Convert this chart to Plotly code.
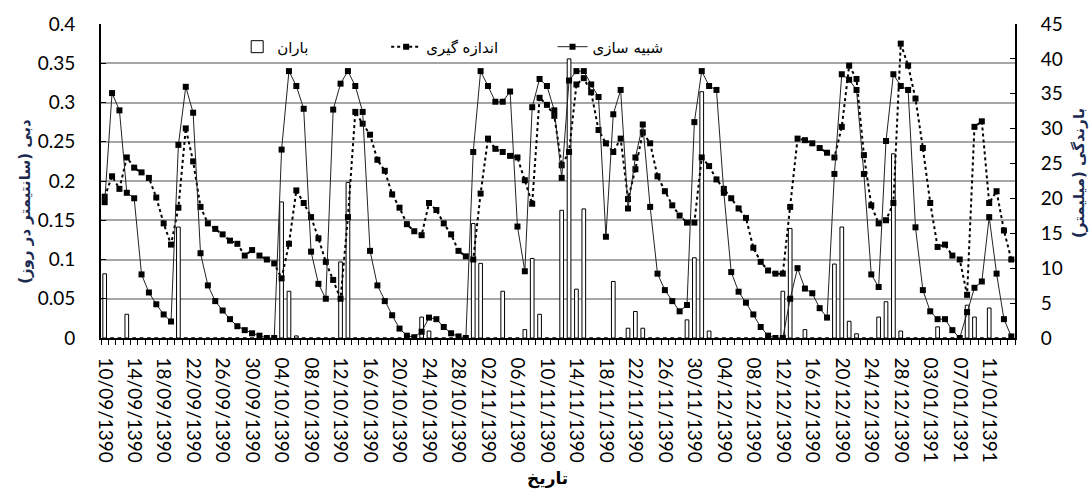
import plotly.graph_objects as go

dates = [
    "10/09/1390", "11/09/1390", "12/09/1390", "13/09/1390", "14/09/1390", "15/09/1390", "16/09/1390",
    "17/09/1390", "18/09/1390", "19/09/1390", "20/09/1390", "21/09/1390", "22/09/1390", "23/09/1390",
    "24/09/1390", "25/09/1390", "26/09/1390", "27/09/1390", "28/09/1390", "29/09/1390", "30/09/1390",
    "01/10/1390", "02/10/1390", "03/10/1390", "04/10/1390", "05/10/1390", "06/10/1390", "07/10/1390",
    "08/10/1390", "09/10/1390", "10/10/1390", "11/10/1390", "12/10/1390", "13/10/1390", "14/10/1390",
    "15/10/1390", "16/10/1390", "17/10/1390", "18/10/1390", "19/10/1390", "20/10/1390", "21/10/1390",
    "22/10/1390", "23/10/1390", "24/10/1390", "25/10/1390", "26/10/1390", "27/10/1390", "28/10/1390",
    "29/10/1390", "30/10/1390",
    "01/11/1390", "02/11/1390", "03/11/1390", "04/11/1390", "05/11/1390", "06/11/1390", "07/11/1390",
    "08/11/1390", "09/11/1390", "10/11/1390", "11/11/1390", "12/11/1390", "13/11/1390", "14/11/1390",
    "15/11/1390", "16/11/1390", "17/11/1390", "18/11/1390", "19/11/1390", "20/11/1390", "21/11/1390",
    "22/11/1390", "23/11/1390", "24/11/1390", "25/11/1390", "26/11/1390", "27/11/1390", "28/11/1390",
    "29/11/1390", "30/11/1390",
    "01/12/1390", "02/12/1390", "03/12/1390", "04/12/1390", "05/12/1390", "06/12/1390", "07/12/1390",
    "08/12/1390", "09/12/1390", "10/12/1390", "11/12/1390", "12/12/1390", "13/12/1390", "14/12/1390",
    "15/12/1390", "16/12/1390", "17/12/1390", "18/12/1390", "19/12/1390", "20/12/1390", "21/12/1390",
    "22/12/1390", "23/12/1390", "24/12/1390", "25/12/1390", "26/12/1390", "27/12/1390", "28/12/1390",
    "29/12/1390",
    "01/01/1391", "02/01/1391", "03/01/1391", "04/01/1391", "05/01/1391", "06/01/1391", "07/01/1391",
    "08/01/1391", "09/01/1391", "10/01/1391", "11/01/1391", "12/01/1391", "13/01/1391", "14/01/1391",
]

# simulated discharge (شبیه سازی)
simulated = [
    0.173, 0.312, 0.290, 0.185, 0.178, 0.081, 0.058, 0.043, 0.030, 0.021,
    0.246, 0.320, 0.287, 0.108, 0.067, 0.047, 0.035, 0.024, 0.015, 0.010,
    0.006, 0.003, 0.000, 0.000, 0.240, 0.340, 0.321, 0.292, 0.110, 0.069,
    0.050, 0.291, 0.324, 0.340, 0.321, 0.288, 0.111, 0.067, 0.047, 0.029,
    0.012, 0.003, 0.001, 0.008, 0.026, 0.024, 0.014, 0.006, 0.002, 0.000,
    0.237, 0.340, 0.321, 0.301, 0.301, 0.314, 0.142, 0.085, 0.294, 0.330,
    0.321, 0.290, 0.204, 0.328, 0.340, 0.340, 0.323, 0.307, 0.129, 0.285,
    0.316, 0.165, 0.230, 0.272, 0.167, 0.082, 0.061, 0.047, 0.034, 0.042,
    0.275, 0.340, 0.321, 0.316, 0.185, 0.084, 0.059, 0.045, 0.030, 0.014,
    0.003, 0.000, 0.000, 0.050, 0.089, 0.063, 0.057, 0.038, 0.026, 0.209,
    0.336, 0.329, 0.316, 0.209, 0.081, 0.065, 0.251, 0.336, 0.321, 0.316,
    0.141, 0.061, 0.034, 0.024, 0.024, 0.010, 0.000, 0.033, 0.064, 0.072,
    0.154, 0.082, 0.024, 0.002,
]

# measured discharge (اندازه گیری)
measured = [
    0.180, 0.206, 0.190, 0.230, 0.217, 0.211, 0.204, 0.179, 0.146, 0.119,
    0.166, 0.267, 0.225, 0.167, 0.146, 0.139, 0.132, 0.124, 0.120, 0.105,
    0.112, 0.105, 0.100, 0.095, 0.076, 0.120, 0.188, 0.172, 0.154, 0.127,
    0.097, 0.074, 0.050, 0.154, 0.288, 0.273, 0.259, 0.227, 0.213, 0.183,
    0.166, 0.145, 0.136, 0.131, 0.172, 0.163, 0.146, 0.132, 0.111, 0.104,
    0.100, 0.184, 0.254, 0.241, 0.237, 0.232, 0.230, 0.201, 0.171, 0.306,
    0.297, 0.283, 0.220, 0.237, 0.323, 0.331, 0.313, 0.265, 0.248, 0.237,
    0.254, 0.177, 0.215, 0.262, 0.248, 0.206, 0.187, 0.169, 0.156, 0.147,
    0.147, 0.230, 0.219, 0.202, 0.190, 0.178, 0.165, 0.153, 0.115, 0.097,
    0.086, 0.082, 0.082, 0.167, 0.254, 0.252, 0.248, 0.242, 0.236, 0.230,
    0.269, 0.347, 0.330, 0.233, 0.169, 0.146, 0.150, 0.172, 0.375, 0.347,
    0.305, 0.242, 0.172, 0.116, 0.119, 0.105, 0.100, 0.055, 0.269, 0.276,
    0.172, 0.187, 0.137, 0.100,
]

# rainfall in mm (باران)
rain = [
    9.2, 0, 0, 3.4, 0, 0, 0, 0, 0, 0,
    15.9, 0, 0, 0, 0, 0, 0, 0, 0, 0,
    0, 0, 0, 0, 19.5, 6.7, 0.3, 0, 0, 0,
    0, 0, 10.9, 22.3, 0, 0, 0, 0, 0, 0,
    0, 0, 0, 3.0, 1.0, 0, 0, 0, 0, 0,
    16.4, 10.7, 0, 0, 6.7, 0, 0, 1.2, 11.4, 3.4,
    0, 0, 18.3, 40.0, 7.0, 18.5, 0, 0, 0, 8.1,
    0, 1.4, 3.8, 1.4, 0, 0, 0, 0, 0, 2.6,
    11.5, 35.3, 1.0, 0, 0, 0, 0, 0, 0, 0,
    0, 0, 6.7, 15.7, 0, 1.2, 0, 0, 0, 10.6,
    15.9, 2.4, 0.6, 0, 0, 3.0, 5.2, 26.4, 1.0, 0,
    0, 0, 0, 1.6, 0, 0, 0, 4.7, 3.0, 0,
    4.3, 0, 0, 0,
]

tick_labels = dates[::4]

idx = list(range(len(dates)))
tick_idx = idx[::4]

AR = "DejaVu Sans"
NUM = "Lato"

fig = go.Figure()
fig.add_trace(go.Bar(
    x=idx, y=rain, name="باران", yaxis="y",
    width=0.5,
    marker=dict(color="white", line=dict(color="black", width=1)),
    legend="legend",
))
fig.add_trace(go.Scatter(
    x=idx, y=measured, name="اندازه گیری", yaxis="y2", mode="lines+markers",
    line=dict(color="black", width=2, dash="dot"),
    marker=dict(symbol="square", size=6, color="black"),
    legend="legend2",
))
fig.add_trace(go.Scatter(
    x=idx, y=simulated, name="شبیه سازی", yaxis="y2", mode="lines+markers",
    line=dict(color="#222222", width=1),
    marker=dict(symbol="square", size=6, color="black"),
    legend="legend3",
))

legend_common = dict(
    orientation="h", yanchor="middle", xanchor="left", y=0.927,
    bgcolor="rgba(0,0,0,0)", font=dict(family=AR, size=15, color="black"),
)

fig.update_layout(
    width=1092, height=489,
    margin=dict(l=101, r=77, t=22, b=151),
    plot_bgcolor="white", paper_bgcolor="white",
    bargap=0.5,
    showlegend=True,
    legend=dict(x=0.149, **legend_common),
    legend2=dict(x=0.312, **legend_common),
    legend3=dict(x=0.494, **legend_common),
    xaxis=dict(
        range=[-0.5, len(dates) - 0.5],
        tickmode="array", tickvals=tick_idx, ticktext=tick_labels,
        tickangle=90, tickfont=dict(family=NUM, size=19, color="black"),
        ticks="", showgrid=False, zeroline=False,
        showline=True, linecolor="black", linewidth=1.5,
        ticklabelstandoff=14,
        minor=dict(tick0=-0.5, dtick=1, ticks="outside", ticklen=5,
                   tickcolor="black", tickwidth=1, showgrid=False),
    ),
    yaxis=dict(
        range=[0, 45], dtick=5, side="right",
        showgrid=False, zeroline=False,
        showline=True, linecolor="black", linewidth=2,
        ticks="inside", ticklen=5, tickcolor="black",
        tickfont=dict(family=NUM, size=19, color="black"),
        ticklabelstandoff=20,
    ),
    yaxis2=dict(
        range=[0, 0.4], dtick=0.05, side="left", overlaying="y",
        showgrid=True, gridcolor="#A6A6A6", gridwidth=1.5, zeroline=False,
        showline=True, linecolor="black", linewidth=2,
        ticks="inside", ticklen=5, tickcolor="black",
        tickfont=dict(family=NUM, size=19, color="black"),
        ticklabelstandoff=20,
    ),
    annotations=[
        dict(text="<b>دبی (سانتیمتر در روز)</b>", xref="paper", yref="paper",
             x=(25 - 101) / 914, y=(338 - 201) / 316, textangle=-90,
             showarrow=False, font=dict(family=AR, size=15, color="#1a2a50"),
             xanchor="center", yanchor="middle"),
        dict(text="<b>بارندگی (میلیمتر)</b>", xref="paper", yref="paper",
             x=(1079 - 101) / 914, y=(338 - 172) / 316, textangle=-90,
             showarrow=False, font=dict(family=AR, size=15, color="#1a2a50"),
             xanchor="center", yanchor="middle"),
        dict(text="<b>تاریخ</b>", xref="paper", yref="paper",
             x=(547 - 101) / 914, y=(338 - 479) / 316,
             showarrow=False, font=dict(family=AR, size=17, color="black"),
             xanchor="center", yanchor="middle"),
    ],
)

fig.write_html("out.html")
